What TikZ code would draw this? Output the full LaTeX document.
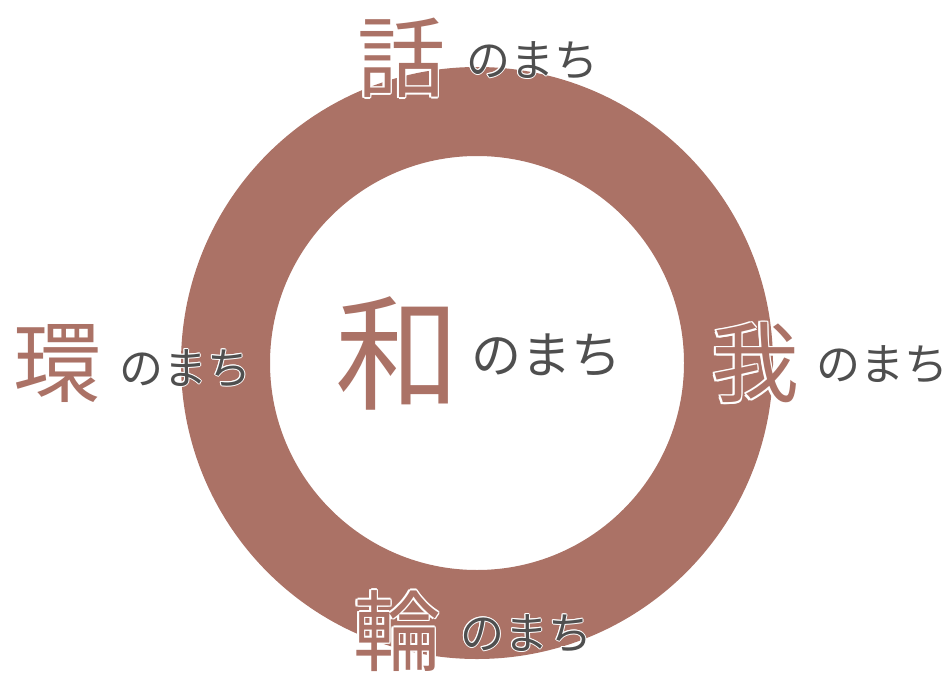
\documentclass[tikz,border=0pt]{standalone}
\usepackage{fontspec}
\newfontfamily\jp{Noto Sans CJK JP}
\definecolor{ringbrown}{HTML}{AB7266}
\definecolor{kanagray}{HTML}{4F4F4F}
\newdimen\olA \newdimen\olB
\newcommand\olt[3]{{\setbox0\hbox{#3}%
 \olA=#1\relax \olB=0.7\olA
 \color{white}%
 \rlap{\kern-\olA\copy0}\rlap{\kern\olA\copy0}\rlap{\raise\olA\copy0}\rlap{\lower\olA\copy0}%
 \rlap{\kern-\olB\raise\olB\copy0}\rlap{\kern\olB\raise\olB\copy0}%
 \rlap{\kern-\olB\lower\olB\copy0}\rlap{\kern\olB\lower\olB\copy0}%
 \color{#2}\box0}}
\tikzset{
  kanji/.style={inner sep=0pt, font=\jp\fontsize{88}{88}\selectfont},
  bigkanji/.style={inner sep=0pt, font=\jp\fontsize{125}{125}\selectfont},
  kana/.style={inner sep=0pt, font=\jp\fontsize{44}{44}\selectfont},
  bigkana/.style={inner sep=0pt, font=\jp\fontsize{50}{50}\selectfont},
}
\begin{document}
\begin{tikzpicture}[x=1pt,y=-1pt]
\useasboundingbox (0,0) rectangle (949,674);
\fill[ringbrown, even odd rule] (477,363) circle (296pt) (477,363) circle (207pt);
\node[bigkanji] (wa) at (398,353) {\olt{1.2pt}{ringbrown}{和}};
\node[bigkana] (wam) at (546,355) {\olt{1pt}{kanagray}{のまち}};
\node[kanji] (hanashi) at (401,58) {\olt{1.5pt}{ringbrown}{話}};
\node[kana] (hanashim) at (532,60) {\olt{1pt}{kanagray}{のまち}};
\node[kanji] (tamaki) at (57,364) {\olt{1.5pt}{ringbrown}{環}};
\node[kana] (tamakim) at (185,368) {\olt{1pt}{kanagray}{のまち}};
\node[kanji] (ga) at (755,363) {\olt{1.5pt}{ringbrown}{我}};
\node[kana] (gam) at (882,364) {\olt{1pt}{kanagray}{のまち}};
\node[kanji] (rin) at (397,631) {\olt{1.5pt}{ringbrown}{輪}};
\node[kana] (rinm) at (526,633) {\olt{1pt}{kanagray}{のまち}};
\end{tikzpicture}
\end{document}
